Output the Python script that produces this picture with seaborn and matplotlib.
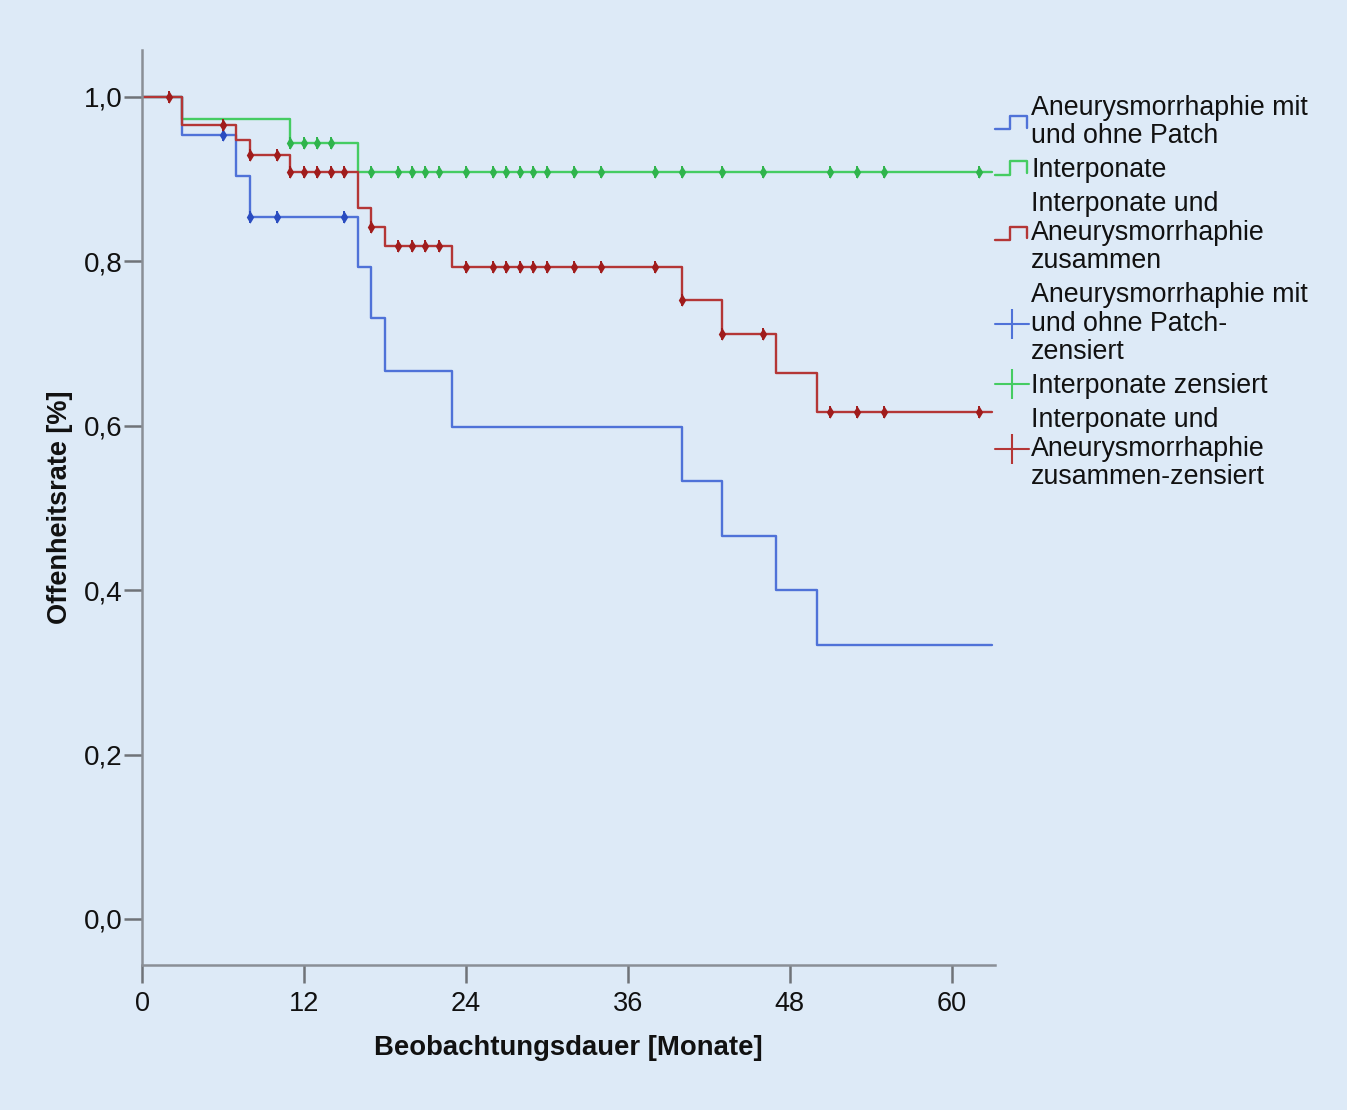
import numpy as np
import pandas as pd
import matplotlib
matplotlib.use("Agg")
import matplotlib.pyplot as plt
import seaborn as sns
from matplotlib.lines import Line2D
from matplotlib.legend_handler import HandlerBase

# ---------------- data ----------------
blue_t = [0, 3, 7, 8, 16, 17, 18, 23, 40, 43, 47, 50, 63]
blue_s = [1.0, 0.954, 0.904, 0.854, 0.793, 0.731, 0.666, 0.599, 0.533, 0.466, 0.400, 0.333, 0.333]
blue_cens = [6, 8, 10, 15]

green_t = [0, 3, 11, 16, 63]
green_s = [1.0, 0.973, 0.944, 0.909, 0.909]
green_cens = [11, 12, 13, 14, 17, 19, 20, 21, 22, 24, 26, 27, 28, 29, 30, 32, 34,
              38, 40, 43, 46, 51, 53, 55, 62]

red_t = [0, 3, 7, 8, 11, 16, 17, 18, 23, 40, 43, 47, 50, 63]
red_s = [1.0, 0.966, 0.948, 0.929, 0.909, 0.865, 0.842, 0.819, 0.793, 0.753, 0.712, 0.664, 0.617, 0.617]
red_cens = [2, 6, 8, 10, 11, 12, 13, 14, 15, 17, 19, 20, 21, 22, 24, 26, 27, 28, 29, 30,
            32, 34, 38, 40, 43, 46, 51, 53, 55, 62]

labels = ["Aneurysmorrhaphie mit\nund ohne Patch",
          "Interponate",
          "Interponate und\nAneurysmorrhaphie\nzusammen",
          "Aneurysmorrhaphie mit\nund ohne Patch-\nzensiert",
          "Interponate zensiert",
          "Interponate und\nAneurysmorrhaphie\nzusammen-zensiert"]

x_ticks = [0, 12, 24, 36, 48, 60]
y_ticks = [0.0, 0.2, 0.4, 0.6, 0.8, 1.0]
y_ticklabels = ["0,0", "0,2", "0,4", "0,6", "0,8", "1,0"]

# ---------------- style ----------------
BG = "#ddeaf7"
C_BLUE, C_BLUE_M = "#4f72d8", "#2a4cc0"
C_GREEN, C_GREEN_M = "#45cc62", "#2fb44c"
C_RED, C_RED_M = "#b43636", "#a01c1c"

sns.set_theme(style="white")
plt.rcParams["font.family"] = ["Liberation Sans", "DejaVu Sans"]

fig = plt.figure(figsize=(13.47, 11.10), dpi=100, facecolor=BG)
ax = fig.add_axes([142 / 1347, 1 - 965 / 1110, (995 - 142) / 1347, (965 - 50) / 1110])
ax.set_facecolor(BG)


def level_at(times, surv, t):
    idx = np.searchsorted(times, t, side="right") - 1
    return np.asarray(surv)[idx]


series = [
    (green_t, green_s, green_cens, C_GREEN, C_GREEN_M),
    (blue_t, blue_s, blue_cens, C_BLUE, C_BLUE_M),
    (red_t, red_s, red_cens, C_RED, C_RED_M),
]

for t, s, cens, c, cm in series:
    df = pd.DataFrame({"t": t, "s": s})
    sns.lineplot(data=df, x="t", y="s", ax=ax, color=c, linewidth=1.7,
                 drawstyle="steps-post", estimator=None, sort=False)
    cdf = pd.DataFrame({"t": cens, "s": level_at(t, s, cens)})
    sns.scatterplot(data=cdf, x="t", y="s", ax=ax, marker="d", s=40,
                    color=cm, linewidth=0, zorder=5)
    sns.scatterplot(data=cdf, x="t", y="s", ax=ax, marker="|", s=70,
                    color=cm, linewidth=1.4, zorder=5)

ax.set_xlim(0, 63.2)
ax.set_ylim(-0.056, 1.057)
ax.set_xticks(x_ticks)
ax.set_xticklabels([str(v) for v in x_ticks])
ax.set_yticks(y_ticks)
ax.set_yticklabels(y_ticklabels)

for sp in ["top", "right"]:
    ax.spines[sp].set_visible(False)
for sp in ["left", "bottom"]:
    ax.spines[sp].set_color("#8a8f96")
    ax.spines[sp].set_linewidth(1.8)

ax.tick_params(axis="both", which="major", direction="out", length=13, width=1.8,
               color="#6f7378", labelcolor="#111111", left=True, bottom=True)
ax.tick_params(axis="y", labelsize=20, pad=1)
ax.tick_params(axis="x", labelsize=19.5, pad=6)

ax.set_xlabel("Beobachtungsdauer [Monate]", fontsize=19.8, fontweight="bold", labelpad=13, color="#111111")
ax.set_ylabel("Offenheitsrate [%]", fontsize=19.5, fontweight="bold", labelpad=8, color="#111111")


# ---------------- legend ----------------
class StepHandler(HandlerBase):
    def create_artists(self, legend, orig_handle, xdescent, ydescent, width, height, fontsize, trans):
        x0 = -xdescent
        y0 = -ydescent
        xs = [x0, x0 + 0.45 * width, x0 + 0.45 * width, x0 + 0.95 * width, x0 + 0.95 * width]
        ys = [y0 + 0.15 * height, y0 + 0.15 * height, y0 + 0.85 * height,
              y0 + 0.85 * height, y0 + 0.25 * height]
        ln = Line2D(xs, ys, color=orig_handle.get_color(), linewidth=1.7, transform=trans)
        return [ln]


h_blue = Line2D([], [], color=C_BLUE)
h_green = Line2D([], [], color=C_GREEN)
h_red = Line2D([], [], color=C_RED)
h_bc = Line2D([], [], color=C_BLUE, marker="|", markersize=22, markeredgewidth=1.5, linewidth=1.5)
h_gc = Line2D([], [], color=C_GREEN, marker="|", markersize=22, markeredgewidth=1.5, linewidth=1.5)
h_rc = Line2D([], [], color=C_RED, marker="|", markersize=22, markeredgewidth=1.5, linewidth=1.5)

leg = fig.legend([h_blue, h_green, h_red, h_bc, h_gc, h_rc], labels,
                 loc="upper left", bbox_to_anchor=(995 / 1347, 1 - 95 / 1110),
                 frameon=False, fontsize=19.3, handlelength=1.25, handletextpad=0.1,
                 labelspacing=0.3, borderaxespad=0, borderpad=0,
                 handler_map={h_blue: StepHandler(), h_green: StepHandler(), h_red: StepHandler()})
for txt in leg.get_texts():
    txt.set_linespacing(1.12)
    txt.set_color("#111111")

fig.savefig("out.png", dpi=100, facecolor=BG)
